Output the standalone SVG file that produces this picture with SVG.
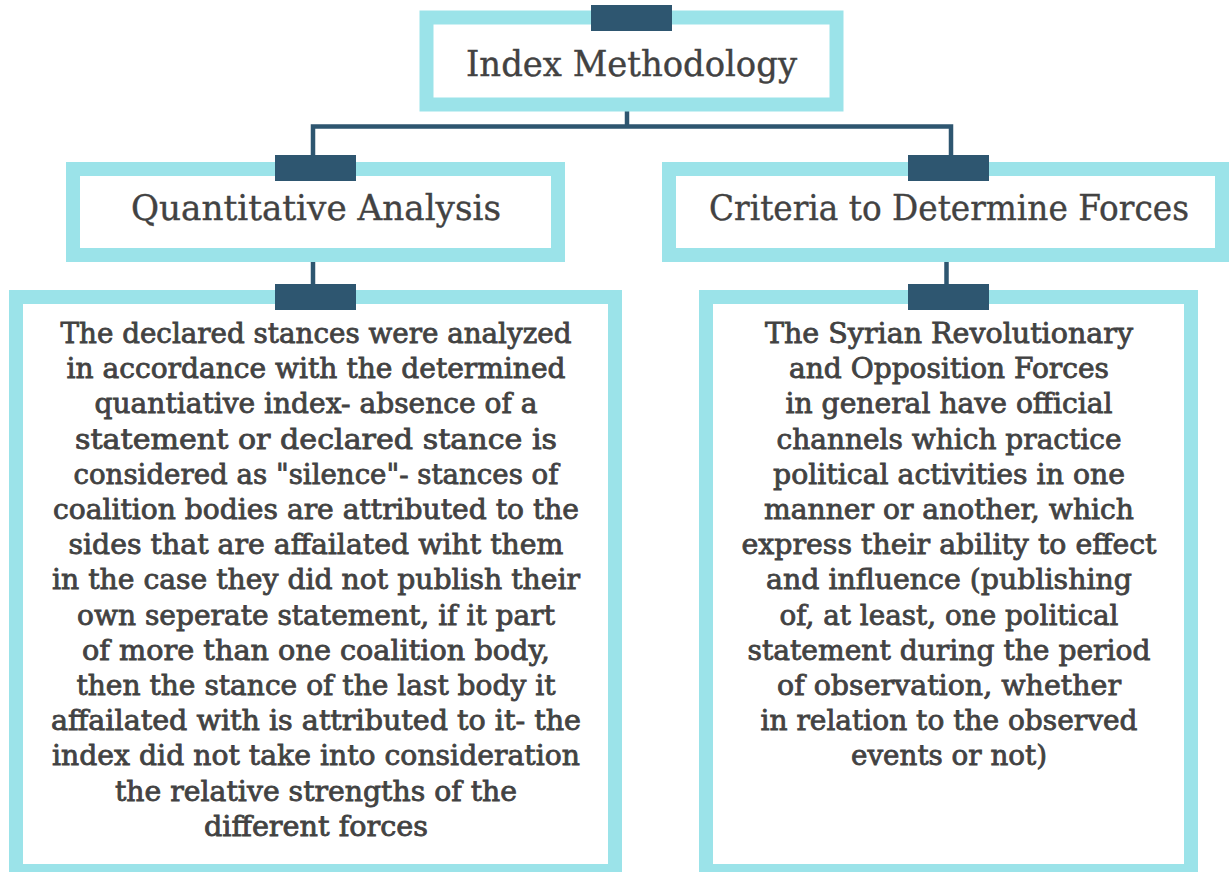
<svg xmlns="http://www.w3.org/2000/svg" width="1232" height="872" viewBox="0 0 1232 872">
<style>
.box{fill:#ffffff;stroke:#9be3e9;stroke-width:14}
.tab{fill:#2e5670}
.conn{fill:none;stroke:#2e5670;stroke-width:4.5}
.title{font-family:"DejaVu Serif","Liberation Serif",serif;font-size:36px;fill:#424242;stroke:#424242;stroke-width:0.4;text-anchor:middle}
.body{font-family:"DejaVu Serif","Liberation Serif",serif;font-size:27px;fill:#424242;stroke:#424242;stroke-width:0.8;text-anchor:middle}
</style>
<rect width="1232" height="872" fill="#ffffff"/>
<g id="connectors">
<path class="conn" d="M627,111 V126.5"/>
<path class="conn" d="M313,155 V126.5 H951 V155"/>
<path class="conn" d="M313,262 V284"/>
<path class="conn" d="M946.5,262 V284"/>
</g>
<g id="node-index">
<rect class="box" x="426.5" y="17.5" width="410" height="87" stroke-width="13"/>
<rect class="tab" x="591" y="5" width="81" height="26"/>
<text class="title" x="631.5" y="76" textLength="331" lengthAdjust="spacingAndGlyphs">Index Methodology</text>
</g>
<g id="node-quant">
<rect class="box" x="73" y="169" width="485" height="86"/>
<rect class="tab" x="275" y="155" width="81" height="26"/>
<text class="title" x="316" y="220" textLength="370" lengthAdjust="spacingAndGlyphs">Quantitative Analysis</text>
</g>
<g id="node-criteria">
<rect class="box" x="669" y="169" width="553" height="86"/>
<rect class="tab" x="908" y="155" width="81" height="26"/>
<text class="title" x="949" y="220" textLength="480" lengthAdjust="spacingAndGlyphs">Criteria to Determine Forces</text>
</g>
<g id="node-quant-text">
<rect class="box" x="16" y="297" width="599" height="574"/>
<rect class="tab" x="275" y="284" width="81" height="26"/>
<text class="body" x="316" y="343" textLength="511" lengthAdjust="spacingAndGlyphs">The declared stances were analyzed</text>
<text class="body" x="316" y="378.2" textLength="499" lengthAdjust="spacingAndGlyphs">in accordance with the determined</text>
<text class="body" x="316" y="413.4" textLength="443" lengthAdjust="spacingAndGlyphs">quantiative index- absence of a</text>
<text class="body" x="316" y="448.6" textLength="482" lengthAdjust="spacingAndGlyphs">statement or declared stance is</text>
<text class="body" x="316" y="483.8" textLength="485" lengthAdjust="spacingAndGlyphs">considered as "silence"- stances of</text>
<text class="body" x="316" y="519" textLength="526" lengthAdjust="spacingAndGlyphs">coalition bodies are attributed to the</text>
<text class="body" x="316" y="554.2" textLength="495" lengthAdjust="spacingAndGlyphs">sides that are affailated wiht them</text>
<text class="body" x="316" y="589.4" textLength="528" lengthAdjust="spacingAndGlyphs">in the case they did not publish their</text>
<text class="body" x="316" y="624.6" textLength="478" lengthAdjust="spacingAndGlyphs">own seperate statement, if it part</text>
<text class="body" x="316" y="659.8" textLength="468" lengthAdjust="spacingAndGlyphs">of more than one coalition body,</text>
<text class="body" x="316" y="695" textLength="479" lengthAdjust="spacingAndGlyphs">then the stance of the last body it</text>
<text class="body" x="316" y="730.2" textLength="530" lengthAdjust="spacingAndGlyphs">affailated with is attributed to it- the</text>
<text class="body" x="316" y="765.4" textLength="528" lengthAdjust="spacingAndGlyphs">index did not take into consideration</text>
<text class="body" x="316" y="800.6" textLength="402" lengthAdjust="spacingAndGlyphs">the relative strengths of the</text>
<text class="body" x="316" y="835.8" textLength="224" lengthAdjust="spacingAndGlyphs">different forces</text>
</g>
<g id="node-criteria-text">
<rect class="box" x="706" y="297" width="485" height="574"/>
<rect class="tab" x="908" y="284" width="81" height="26"/>
<text class="body" x="949" y="343" textLength="368" lengthAdjust="spacingAndGlyphs">The Syrian Revolutionary</text>
<text class="body" x="949" y="378.2" textLength="320" lengthAdjust="spacingAndGlyphs">and Opposition Forces</text>
<text class="body" x="949" y="413.4" textLength="327" lengthAdjust="spacingAndGlyphs">in general have official</text>
<text class="body" x="949" y="448.6" textLength="345" lengthAdjust="spacingAndGlyphs">channels which practice</text>
<text class="body" x="949" y="483.8" textLength="352" lengthAdjust="spacingAndGlyphs">political activities in one</text>
<text class="body" x="949" y="519" textLength="370" lengthAdjust="spacingAndGlyphs">manner or another, which</text>
<text class="body" x="949" y="554.2" textLength="415" lengthAdjust="spacingAndGlyphs">express their ability to effect</text>
<text class="body" x="949" y="589.4" textLength="366" lengthAdjust="spacingAndGlyphs">and influence (publishing</text>
<text class="body" x="949" y="624.6" textLength="339" lengthAdjust="spacingAndGlyphs">of, at least, one political</text>
<text class="body" x="949" y="659.8" textLength="403" lengthAdjust="spacingAndGlyphs">statement during the period</text>
<text class="body" x="949" y="695" textLength="344" lengthAdjust="spacingAndGlyphs">of observation, whether</text>
<text class="body" x="949" y="730.2" textLength="377" lengthAdjust="spacingAndGlyphs">in relation to the observed</text>
<text class="body" x="949" y="765.4" textLength="196" lengthAdjust="spacingAndGlyphs">events or not)</text>
</g>
</svg>
